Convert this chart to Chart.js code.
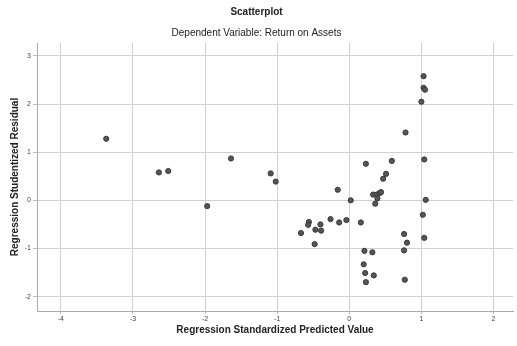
<!DOCTYPE html>
<html>
<head>
<meta charset="utf-8">
<script src="https://cdn.jsdelivr.net/npm/chart.js@4/dist/chart.umd.min.js"></script>
<style>
html,body{margin:0;padding:0;background:#fff;}
#wrap{width:517px;height:346px;}
</style>
</head>
<body>
<div id="wrap"><canvas id="c" width="517" height="346"></canvas></div>
<script>
const predicted = [-3.37,-2.64,-2.51,-1.64,-1.97,-1.09,-1.02,1.03,1.03,1.05,1.00,0.78,0.23,0.59,1.04,0.51,0.47,-0.16,0.02,0.33,0.38,0.42,0.44,0.39,0.36,1.06,1.02,1.04,0.76,0.80,0.76,0.77,0.21,0.32,0.20,0.22,0.34,0.23,0.16,-0.04,-0.14,-0.26,-0.40,-0.39,-0.47,-0.56,-0.57,-0.67,-0.48];
const residual = [1.28,0.58,0.61,0.87,-0.12,0.56,0.39,2.58,2.34,2.30,2.05,1.41,0.76,0.82,0.85,0.55,0.45,0.22,0.00,0.12,0.12,0.15,0.17,0.04,-0.07,0.01,-0.30,-0.78,-0.70,-0.88,-1.04,-1.65,-1.05,-1.08,-1.33,-1.51,-1.56,-1.70,-0.46,-0.41,-0.46,-0.39,-0.50,-0.63,-0.61,-0.45,-0.51,-0.68,-0.91];
const xTicks = [-4,-3,-2,-1,0,1,2];
const yTicks = [-2,-1,0,1,2,3];

const points = predicted.map((x,i)=>({x:x,y:residual[i]}));
const FONT = "'Liberation Sans', Arial, sans-serif";

new Chart(document.getElementById('c'), {
  type: 'scatter',
  data: { datasets: [{ data: points, pointRadius: 2.6, pointBackgroundColor: '#555', pointBorderColor: '#3a3a3a', pointBorderWidth: 1, pointHoverRadius: 2.6 }] },
  options: {
    responsive: false,
    animation: false,
    layout: { padding: { left: 0, right: 4, top: 0, bottom: 0 } },
    plugins: {
      legend: { display: false },
      tooltip: { enabled: false },
      title: { display: true, text: 'Scatterplot', color: '#222', font: { family: FONT, size: 10, weight: 'bold' }, padding: { top: 6, bottom: 9 } },
      subtitle: { display: true, text: 'Dependent Variable: Return on Assets', color: '#222', font: { family: FONT, size: 10, weight: 'normal' }, padding: { top: 0, bottom: 4 } }
    },
    scales: {
      x: {
        type: 'linear', min: -4.33, max: 2.27,
        afterBuildTicks: s => { s.ticks = xTicks.map(v => ({ value: v })); },
        afterFit: s => { s.height = 35; },
        grid: { color: '#d0d0d0', lineWidth: 1, tickLength: 3, tickColor: '#bbb' },
        border: { color: '#aaa' },
        ticks: { color: '#444', font: { family: FONT, size: 7 }, padding: 1, callback: v => String(v) },
        title: { display: true, text: 'Regression Standardized Predicted Value', color: '#222', font: { family: FONT, size: 10, weight: 'bold' }, padding: { top: 2, bottom: 10 } }
      },
      y: {
        type: 'linear', min: -2.3, max: 3.27,
        afterBuildTicks: s => { s.ticks = yTicks.map(v => ({ value: v })); },
        afterFit: s => { s.width = 37; },
        grid: { color: '#d0d0d0', lineWidth: 1, tickLength: 4, tickColor: '#bbb' },
        border: { color: '#aaa' },
        ticks: { color: '#444', font: { family: FONT, size: 7 }, padding: 2, callback: v => String(v) },
        title: { display: true, text: 'Regression Studentized Residual', color: '#222', font: { family: FONT, size: 10, weight: 'bold' }, padding: { top: 9, bottom: 4 } }
      }
    }
  }
});
</script>
</body>
</html>
